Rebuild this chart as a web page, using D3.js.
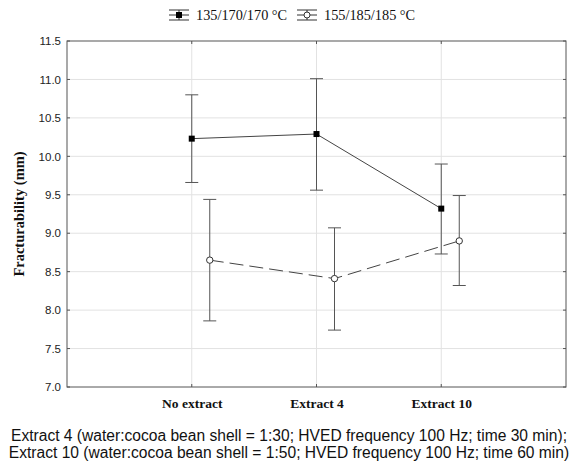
<!DOCTYPE html>
<html>
<head>
<meta charset="utf-8">
<script src="https://cdn.jsdelivr.net/npm/d3@7"></script>
<style>
  body { margin: 0; background: #fff; }
</style>
</head>
<body>
<div id="chart"></div>
<script>
// Data
const categories = ["No extract", "Extract 4", "Extract 10"]
const seriesNames = ["135/170/170 \u00B0C", "155/185/185 \u00B0C"]
const meanA = [10.23, 10.29, 9.32]
const upperA = [10.80, 11.01, 9.90]
const lowerA = [9.66, 9.56, 8.73]
const meanB = [8.65, 8.41, 8.90]
const upperB = [9.44, 9.07, 9.49]
const lowerB = [7.86, 7.74, 8.32]
const yTicks = [7.0, 7.5, 8.0, 8.5, 9.0, 9.5, 10.0, 10.5, 11.0, 11.5]
const footnotes = [
  "Extract 4 (water:cocoa bean shell = 1:30; HVED frequency 100 Hz; time 30 min);",
  "Extract 10 (water:cocoa bean shell = 1:50; HVED frequency 100 Hz; time 60 min)"
]

const width = 574, height = 461
const margin = { top: 41, right: 8, bottom: 74, left: 67 }

const svg = d3.select("#chart").append("svg")
  .attr("width", width)
  .attr("height", height)

const x = d3.scaleLinear()
  .domain([0, 4])
  .range([margin.left, width - margin.right])

const y = d3.scaleLinear()
  .domain([7, 11.5])
  .range([height - margin.bottom, margin.top])

const offsetB = 18 // second series is drawn a bit to the right

// grid
const grid = svg.append("g")
grid.selectAll(".hg").data(yTicks.slice(1, -1)).join("line")
  .attr("x1", x(0)).attr("x2", x(4))
  .attr("y1", d => y(d)).attr("y2", d => y(d))
  .attr("stroke", "#e2e2e2").attr("stroke-width", 1)
grid.selectAll(".vg").data(categories).join("line")
  .attr("x1", (d, i) => x(i + 1)).attr("x2", (d, i) => x(i + 1))
  .attr("y1", y(7)).attr("y2", y(11.5))
  .attr("stroke", "#e2e2e2").attr("stroke-width", 1)

// axes
const axisLeft = svg.append("g")
  .attr("transform", `translate(${x(0)},0)`)
  .call(d3.axisLeft(y).tickValues(yTicks).tickSize(0).tickPadding(6).tickFormat(d3.format(".1f")))
axisLeft.select(".domain").remove()
axisLeft.selectAll("text")
  .attr("font-family", "Liberation Sans, Arial, sans-serif")
  .attr("font-size", 11.5).attr("fill", "#222")

const axisBottom = svg.append("g")
  .attr("transform", `translate(0,${y(7)})`)
  .call(d3.axisBottom(x).tickValues([1, 2, 3]).tickSize(0).tickPadding(11)
    .tickFormat(d => categories[d - 1]))
axisBottom.select(".domain").remove()
axisBottom.selectAll("text")
  .attr("font-family", "Liberation Serif, Times New Roman, serif")
  .attr("font-weight", "bold")
  .attr("font-size", 13.5).attr("fill", "#111")

// inward tick marks on all sides
const ticks = svg.append("g").attr("stroke", "#555")
ticks.selectAll(".tl").data(yTicks).join("line")
  .attr("x1", x(0)).attr("x2", x(0) + 3)
  .attr("y1", d => y(d)).attr("y2", d => y(d))
ticks.selectAll(".tr").data(yTicks).join("line")
  .attr("x1", x(4)).attr("x2", x(4) - 3)
  .attr("y1", d => y(d)).attr("y2", d => y(d))
ticks.selectAll(".tb").data([1, 2, 3]).join("line")
  .attr("x1", d => x(d)).attr("x2", d => x(d))
  .attr("y1", y(7)).attr("y2", y(7) - 3)
ticks.selectAll(".tt").data([1, 2, 3]).join("line")
  .attr("x1", d => x(d)).attr("x2", d => x(d))
  .attr("y1", y(11.5)).attr("y2", y(11.5) + 3)

// frame
svg.append("rect")
  .attr("x", x(0)).attr("y", y(11.5))
  .attr("width", x(4) - x(0)).attr("height", y(7) - y(11.5))
  .attr("fill", "none").attr("stroke", "#555").attr("stroke-width", 1)

// y title
svg.append("text")
  .attr("transform", `translate(24,${(y(7) + y(11.5)) / 2}) rotate(-90)`)
  .attr("text-anchor", "middle")
  .attr("font-family", "Liberation Serif, Times New Roman, serif")
  .attr("font-weight", "bold").attr("font-size", 14.5).attr("fill", "#111")
  .text("Fracturability (mm)")

// series
function drawSeries(mean, upper, lower, dx, dashed, marker) {
  const g = svg.append("g")
  const pts = mean.map((m, i) => ({ cx: x(i + 1) + dx, m, u: upper[i], l: lower[i] }))

  g.append("path")
    .datum(pts)
    .attr("d", d3.line().x(d => d.cx).y(d => y(d.m)))
    .attr("fill", "none")
    .attr("stroke", "#444")
    .attr("stroke-width", 1)
    .attr("stroke-dasharray", dashed ? "14,6" : null)

  const eb = g.selectAll(".eb").data(pts).join("g").attr("stroke", "#555").attr("stroke-width", 1)
  eb.append("line").attr("x1", d => d.cx).attr("x2", d => d.cx)
    .attr("y1", d => y(d.u)).attr("y2", d => y(d.l))
  eb.append("line").attr("x1", d => d.cx - 6.5).attr("x2", d => d.cx + 6.5)
    .attr("y1", d => y(d.u)).attr("y2", d => y(d.u))
  eb.append("line").attr("x1", d => d.cx - 6.5).attr("x2", d => d.cx + 6.5)
    .attr("y1", d => y(d.l)).attr("y2", d => y(d.l))

  if (marker == "square") {
    g.selectAll(".mk").data(pts).join("rect")
      .attr("x", d => d.cx - 3).attr("y", d => y(d.m) - 3)
      .attr("width", 6).attr("height", 6).attr("fill", "#000")
  } else {
    g.selectAll(".mk").data(pts).join("circle")
      .attr("cx", d => d.cx).attr("cy", d => y(d.m)).attr("r", 3.2)
      .attr("fill", "#fff").attr("stroke", "#333").attr("stroke-width", 1)
  }
}

drawSeries(meanA, upperA, lowerA, 0, false, "square")
drawSeries(meanB, upperB, lowerB, offsetB, true, "circle")

// legend
const legendItems = [
  { name: seriesNames[0], x0: 169, marker: "square" },
  { name: seriesNames[1], x0: 297, marker: "circle" }
]
const lg = svg.append("g")
legendItems.forEach(it => {
  const cy = 15
  const g = lg.append("g").attr("stroke", "#333").attr("stroke-width", 1)
  g.append("line").attr("x1", it.x0).attr("x2", it.x0 + 20).attr("y1", cy - 5).attr("y2", cy - 5)
  g.append("line").attr("x1", it.x0).attr("x2", it.x0 + 20).attr("y1", cy).attr("y2", cy)
  g.append("line").attr("x1", it.x0).attr("x2", it.x0 + 20).attr("y1", cy + 5).attr("y2", cy + 5)
  g.append("line").attr("x1", it.x0 + 10).attr("x2", it.x0 + 10).attr("y1", cy - 5).attr("y2", cy + 5)
  if (it.marker == "square") {
    g.append("rect").attr("x", it.x0 + 7).attr("y", cy - 3).attr("width", 6).attr("height", 6)
      .attr("fill", "#000").attr("stroke", "none")
  } else {
    g.append("circle").attr("cx", it.x0 + 10).attr("cy", cy).attr("r", 3)
      .attr("fill", "#fff")
  }
  lg.append("text")
    .attr("x", it.x0 + 27).attr("y", cy + 5)
    .attr("font-family", "Liberation Serif, Times New Roman, serif")
    .attr("font-size", 14.3).attr("fill", "#111")
    .text(it.name)
})

// footnote
svg.append("g").selectAll("text").data(footnotes).join("text")
  .attr("x", 289)
  .attr("y", (d, i) => 441 + i * 17)
  .attr("text-anchor", "middle")
  .attr("font-family", "Liberation Sans, Arial, sans-serif")
  .attr("font-size", 15.6).attr("fill", "#111")
  .text(d => d)
</script>
</body>
</html>
